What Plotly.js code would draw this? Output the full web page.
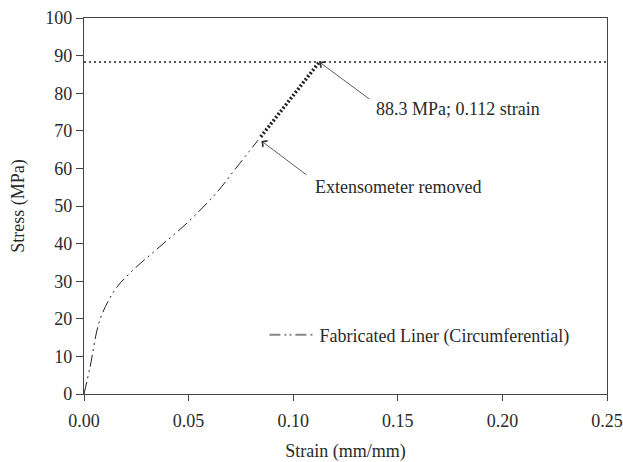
<!DOCTYPE html>
<html><head><meta charset="utf-8">
<script src="https://cdn.plot.ly/plotly-3.0.1.min.js"></script>
<style>body{margin:0;padding:0;background:#fff}#chart{width:623px;height:462px}</style>
</head><body><div id="chart"></div>
<script>
// Measured curve (extensometer attached)
const strainMain = [0, 0.0029, 0.0076, 0.0148, 0.022, 0.0354, 0.0497, 0.0636, 0.0731, 0.0832];
const stressMain = [0, 7.2, 19.7, 27.7, 32.2, 38.8, 45.7, 53.7, 60.4, 67.5];
// After extensometer removed
const strainExt = [0.0845, 0.1125];
const stressExt = [68.4, 88.3];
// Ultimate stress reference line
const ultStrain = [0, 0.25];
const ultStress = [88.3, 88.3];
const seriesName = 'Fabricated Liner (Circumferential)';
const xTicks = [0, 0.05, 0.10, 0.15, 0.20, 0.25];
const xTickText = ['0.00', '0.05', '0.10', '0.15', '0.20', '0.25'];
const yTicks = [0, 10, 20, 30, 40, 50, 60, 70, 80, 90, 100];

const fam = '"Liberation Serif", "Times New Roman", serif';
const font = {family: fam, size: 18, color: '#2a2a2a'};
const data = [
  {x: ultStrain, y: ultStress, mode: 'lines', showlegend: false, hoverinfo: 'skip',
   line: {color: '#222', width: 1.3, dash: '2px,3px'}},
  {x: strainMain, y: stressMain, mode: 'lines', showlegend: false, name: seriesName,
   line: {color: '#222', width: 1, shape: 'spline', dash: '12px,4px,2px,4px,2px,4px'}},
  {x: strainExt, y: stressExt, mode: 'lines', showlegend: false, line: {color: '#222', width: 3.5, dash: '2px,2px'}},
  // legend entry for the series
  {x: [null], y: [null], mode: 'lines', name: seriesName, showlegend: true,
   line: {color: '#888', width: 2, dash: '11px,4px,2px,3px,2px,4px'}}
];
const layout = {
  width: 623, height: 462,
  margin: {l: 84, r: 16, t: 18, b: 68},
  paper_bgcolor: '#fff', plot_bgcolor: '#fff',
  font: font,
  showlegend: true,
  legend: {x: 0.345, y: 0.157, xanchor: 'left', yanchor: 'middle', bgcolor: 'rgba(0,0,0,0)', font: font, itemwidth: 45},
  xaxis: {range: [0, 0.25], tickvals: xTicks, ticktext: xTickText, ticks: 'outside', ticklen: 6, tickcolor: '#444',
          ticklabelstandoff: 4,
          showline: true, linecolor: '#444', linewidth: 1.2, mirror: true, showgrid: false, zeroline: false,
          tickfont: font, title: {text: 'Strain (mm/mm)', font: font, standoff: 15}},
  yaxis: {range: [0, 100], tickvals: yTicks, ticks: 'outside', ticklen: 7, tickcolor: '#444',
          showline: true, linecolor: '#444', linewidth: 1.2, mirror: true, showgrid: false, zeroline: false,
          tickfont: font, title: {text: 'Stress (MPa)', font: font, standoff: 16}},
  annotations: [
    {x: 0.1125, y: 88.3, ax: 0.137, ay: 78.2, axref: 'x', ayref: 'y', text: '', showarrow: true,
     arrowhead: 4, arrowsize: 1.8, arrowwidth: 0.8, arrowcolor: '#333'},
    {x: 0.1385, y: 75.8, xanchor: 'left', yanchor: 'middle', text: '88.3 MPa; 0.112 strain', showarrow: false, font: font},
    {x: 0.0848, y: 67.3, ax: 0.107, ay: 58.0, axref: 'x', ayref: 'y', text: '', showarrow: true,
     arrowhead: 4, arrowsize: 1.8, arrowwidth: 0.8, arrowcolor: '#333'},
    {x: 0.1095, y: 55.0, xanchor: 'left', yanchor: 'middle', text: 'Extensometer removed', showarrow: false, font: font}
  ]
};
Plotly.newPlot('chart', data, layout, {displayModeBar: false, staticPlot: true});
</script></body></html>
